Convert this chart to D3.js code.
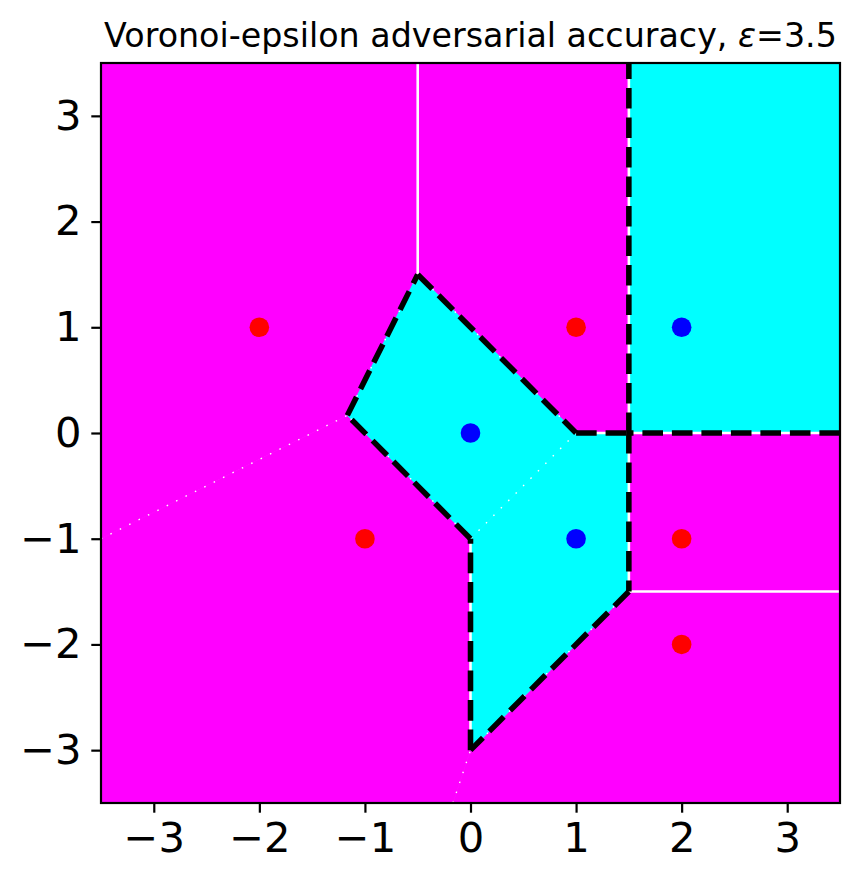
<!DOCTYPE html>
<html>
<head>
<meta charset="utf-8">
<script src="https://cdn.jsdelivr.net/npm/d3@7"></script>
<style>
  body { margin: 0; background: #fff; }
  text { font-family: "DejaVu Sans", sans-serif; fill: #000; }
</style>
</head>
<body>
<svg id="chart"></svg>
<script>
// Training points and their labels
const pointX = [-2, 1, -1, 2, 2, 0, 1, 2];
const pointY = [1, 1, -1, -1, -2, 0, -1, 1];
const pointClass = ['red', 'red', 'red', 'red', 'red', 'blue', 'blue', 'blue'];

// Region colour for each label
const classNames = ['red', 'blue'];
const regionColors = ['#ff00ff', '#00ffff'];

const xDomain = [-3.5, 3.5];
const yDomain = [-3.5, 3.5];
const tickValues = [-3, -2, -1, 0, 1, 2, 3];
const epsilon = 3.5;

const config = {
  containerWidth: 863,
  containerHeight: 883,
  margin: {top: 63, right: 23, bottom: 80, left: 101}
};

const width = config.containerWidth - config.margin.left - config.margin.right;
const height = config.containerHeight - config.margin.top - config.margin.bottom;

const svg = d3.select('#chart')
    .attr('width', config.containerWidth)
    .attr('height', config.containerHeight);

const chart = svg.append('g')
    .attr('transform', `translate(${config.margin.left},${config.margin.top})`);

const xScale = d3.scaleLinear().domain(xDomain).range([0, width]);
const yScale = d3.scaleLinear().domain(yDomain).range([height, 0]);
const colorScale = d3.scaleOrdinal().domain(classNames).range(regionColors);

const points = pointX.map((x, i) => [x, pointY[i]]);

// Voronoi diagram in data coordinates, clipped to the axes limits
const delaunay = d3.Delaunay.from(points);
const voronoi = delaunay.voronoi([xDomain[0], yDomain[0], xDomain[1], yDomain[1]]);

const toPx = p => [xScale(p[0]), yScale(p[1])];
const line = d3.line();

// Filled cells
chart.append('g').selectAll('path')
    .data(points.map((p, i) => i))
  .join('path')
    .attr('d', i => line(voronoi.cellPolygon(i).map(toPx)) + 'Z')
    .attr('fill', i => colorScale(pointClass[i]))
    .attr('stroke', i => colorScale(pointClass[i]))
    .attr('stroke-width', 0.8);

// Shared edges between neighbouring cells
const close = (a, b) => Math.abs(a[0] - b[0]) < 1e-6 && Math.abs(a[1] - b[1]) < 1e-6;
const edges = [];
points.forEach((p, i) => {
  for (const j of delaunay.neighbors(i)) {
    if (j <= i) continue;
    const polyJ = voronoi.cellPolygon(j);
    const shared = [];
    voronoi.cellPolygon(i).forEach(v => {
      if (polyJ.some(w => close(v, w)) && !shared.some(s => close(s, v))) shared.push(v);
    });
    if (shared.length < 2) continue;
    edges.push({a: shared[0], b: shared[1], boundary: pointClass[i] !== pointClass[j]});
  }
});

const isAxisAligned = e => Math.abs(e.a[0] - e.b[0]) < 1e-6 || Math.abs(e.a[1] - e.b[1]) < 1e-6;

// White Voronoi edges (the slanted ones come out broken in the original)
chart.append('g').selectAll('path')
    .data(edges)
  .join('path')
    .attr('d', e => line([toPx(e.a), toPx(e.b)]))
    .attr('fill', 'none')
    .attr('stroke', '#fff')
    .attr('stroke-width', e => isAxisAligned(e) ? 2.6 : 1.4)
    .attr('stroke-dasharray', e => isAxisAligned(e) ? null : '1.5,9');

// Dashed decision boundary between the two classes
chart.append('g').selectAll('path')
    .data(edges.filter(e => e.boundary))
  .join('path')
    .attr('d', e => line([toPx(e.a), toPx(e.b)]))
    .attr('fill', 'none')
    .attr('stroke', '#000')
    .attr('stroke-width', 5.56)
    .attr('stroke-dasharray', '20.6,8.9');

// Points
chart.append('g').selectAll('circle')
    .data(points.map((p, i) => i))
  .join('circle')
    .attr('cx', i => xScale(pointX[i]))
    .attr('cy', i => yScale(pointY[i]))
    .attr('r', 9.8)
    .attr('fill', i => pointClass[i] === 'red' ? '#ff0000' : '#0000ff');

// Axes (d3.format uses the proper minus sign)
const xAxis = d3.axisBottom(xScale)
    .tickValues(tickValues)
    .tickFormat(d3.format('d'))
    .tickSizeInner(9.7)
    .tickSizeOuter(0)
    .tickPadding(9.7);

const yAxis = d3.axisLeft(yScale)
    .tickValues(tickValues)
    .tickFormat(d3.format('d'))
    .tickSizeInner(9.7)
    .tickSizeOuter(0)
    .tickPadding(9.7);

const xAxisG = chart.append('g')
    .attr('transform', `translate(0,${height})`)
    .call(xAxis)
    .call(g => g.select('.domain').remove());

const yAxisG = chart.append('g')
    .call(yAxis)
    .call(g => g.select('.domain').remove());

[xAxisG, yAxisG].forEach(g => {
  g.selectAll('.tick line').attr('stroke', '#000').attr('stroke-width', 2.2);
  g.selectAll('.tick text')
      .attr('font-family', '"DejaVu Sans", sans-serif')
      .attr('font-size', 41.7)
      .attr('fill', '#000');
});

// Frame
chart.append('rect')
    .attr('width', width)
    .attr('height', height)
    .attr('fill', 'none')
    .attr('stroke', '#000')
    .attr('stroke-width', 2.2);

// Title
const title = chart.append('text')
    .attr('x', width / 2)
    .attr('y', -16.5)
    .attr('text-anchor', 'middle')
    .attr('font-size', 33.3);
title.append('tspan').text('Voronoi-epsilon adversarial accuracy, ');
title.append('tspan').attr('font-style', 'italic').text('ε');
title.append('tspan').text('=' + epsilon);
</script>
</body>
</html>
